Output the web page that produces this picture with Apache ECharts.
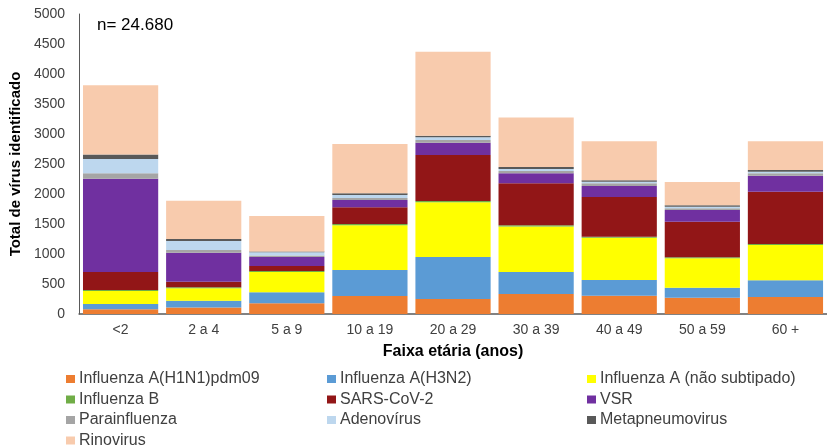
<!DOCTYPE html>
<html>
<head>
<meta charset="utf-8">
<script src="https://cdn.jsdelivr.net/npm/echarts@6/dist/echarts.min.js"></script>
<style>
  html, body { margin: 0; padding: 0; background: #fff; }
  #echart { width: 827px; height: 448px; }
</style>
</head>
<body>
<div id="echart"></div>
<script>
var categories = ['<2', '2 a 4', '5 a 9', '10 a 19', '20 a 29', '30 a 39', '40 a 49', '50 a 59', '60 +'];
var yTicks = [0, 500, 1000, 1500, 2000, 2500, 3000, 3500, 4000, 4500, 5000];

var h1n1 = [80, 110, 178, 300, 250, 333, 306, 272, 283];
var h3n2 = [87, 112, 183, 433, 700, 367, 261, 167, 278];
var fluANaoSub = [218, 207, 341, 747, 911, 760, 705, 489, 589];
var fluB = [15, 15, 15, 20, 22, 20, 17, 17, 17];
var sarsCov2 = [300, 95, 83, 278, 767, 698, 661, 594, 872];
var vsr = [1555, 483, 150, 122, 205, 167, 183, 194, 267];
var parainfluenza = [90, 45, 25, 35, 45, 38, 45, 28, 39];
var adenovirus = [238, 150, 53, 48, 45, 33, 27, 28, 27];
var metapneumovirus = [77, 33, 12, 28, 27, 33, 23, 22, 28];
var rinovirus = [1151, 639, 593, 822, 1400, 828, 650, 389, 478];

var seriesList = [
  {name: 'Influenza A(H1N1)pdm09', data: h1n1, color: '#ED7D31'},
  {name: 'Influenza A(H3N2)', data: h3n2, color: '#5B9BD5'},
  {name: 'Influenza A (não subtipado)', data: fluANaoSub, color: '#FFFF00'},
  {name: 'Influenza B', data: fluB, color: '#70AD47'},
  {name: 'SARS-CoV-2', data: sarsCov2, color: '#921617'},
  {name: 'VSR', data: vsr, color: '#7030A0'},
  {name: 'Parainfluenza', data: parainfluenza, color: '#A5A5A5'},
  {name: 'Adenovírus', data: adenovirus, color: '#BDD7EE'},
  {name: 'Metapneumovirus', data: metapneumovirus, color: '#595959'},
  {name: 'Rinovirus', data: rinovirus, color: '#F8CBAD'}
];

var font = 'Liberation Sans, Arial, sans-serif';

function legendCol(left, names) {
  return {
    orient: 'vertical',
    left: left,
    top: 371,
    height: 100,
    padding: 0,
    itemWidth: 9,
    itemHeight: 8,
    itemGap: 4.5,
    icon: 'rect',
    selectedMode: false,
    textStyle: {fontFamily: font, fontSize: 16, color: '#404040', padding: [0, 0, 0, -1], lineHeight: 16},
    data: names
  };
}

var myChart = echarts.init(document.getElementById('echart'));
var option = {
  animation: false,
  color: seriesList.map(function (s) { return s.color; }),
  title: {
    text: 'n= 24.680',
    left: 92,
    top: 12,
    textStyle: {fontFamily: font, fontSize: 17, fontWeight: 'normal', color: '#000'}
  },
  legend: [
    legendCol(66, ['Influenza A(H1N1)pdm09', 'Influenza B', 'Parainfluenza', 'Rinovirus']),
    legendCol(327, ['Influenza A(H3N2)', 'SARS-CoV-2', 'Adenovírus']),
    legendCol(587, ['Influenza A (não subtipado)', 'VSR', 'Metapneumovirus'])
  ],
  grid: {left: 77, top: 14, width: 756, height: 300},
  xAxis: {
    type: 'category',
    data: categories,
    name: 'Faixa etária (anos)',
    nameLocation: 'middle',
    nameGap: 30,
    nameTextStyle: {fontFamily: font, fontSize: 16, fontWeight: 'bold', color: '#000'},
    axisLine: {lineStyle: {color: '#595959', width: 1.5}},
    axisTick: {show: false},
    axisLabel: {fontFamily: font, fontSize: 14, color: '#404040', margin: 9}
  },
  yAxis: {
    type: 'value',
    min: yTicks[0],
    max: yTicks[yTicks.length - 1],
    interval: yTicks[1] - yTicks[0],
    name: 'Total de vírus identificado',
    nameLocation: 'middle',
    nameGap: 50,
    nameTextStyle: {fontFamily: font, fontSize: 15, fontWeight: 'bold', color: '#000'},
    axisLine: {show: true, lineStyle: {color: '#595959', width: 1}},
    axisTick: {show: false},
    splitLine: {show: false},
    axisLabel: {
      fontFamily: font, fontSize: 14, color: '#404040', margin: 14,
      formatter: function (v) { return String(v); }
    }
  },
  series: seriesList.map(function (s) {
    return {
      name: s.name,
      type: 'bar',
      stack: 'total',
      barCategoryGap: '9.5%',
      data: s.data,
      itemStyle: {color: s.color}
    };
  })
};
myChart.setOption(option);
</script>
</body>
</html>
